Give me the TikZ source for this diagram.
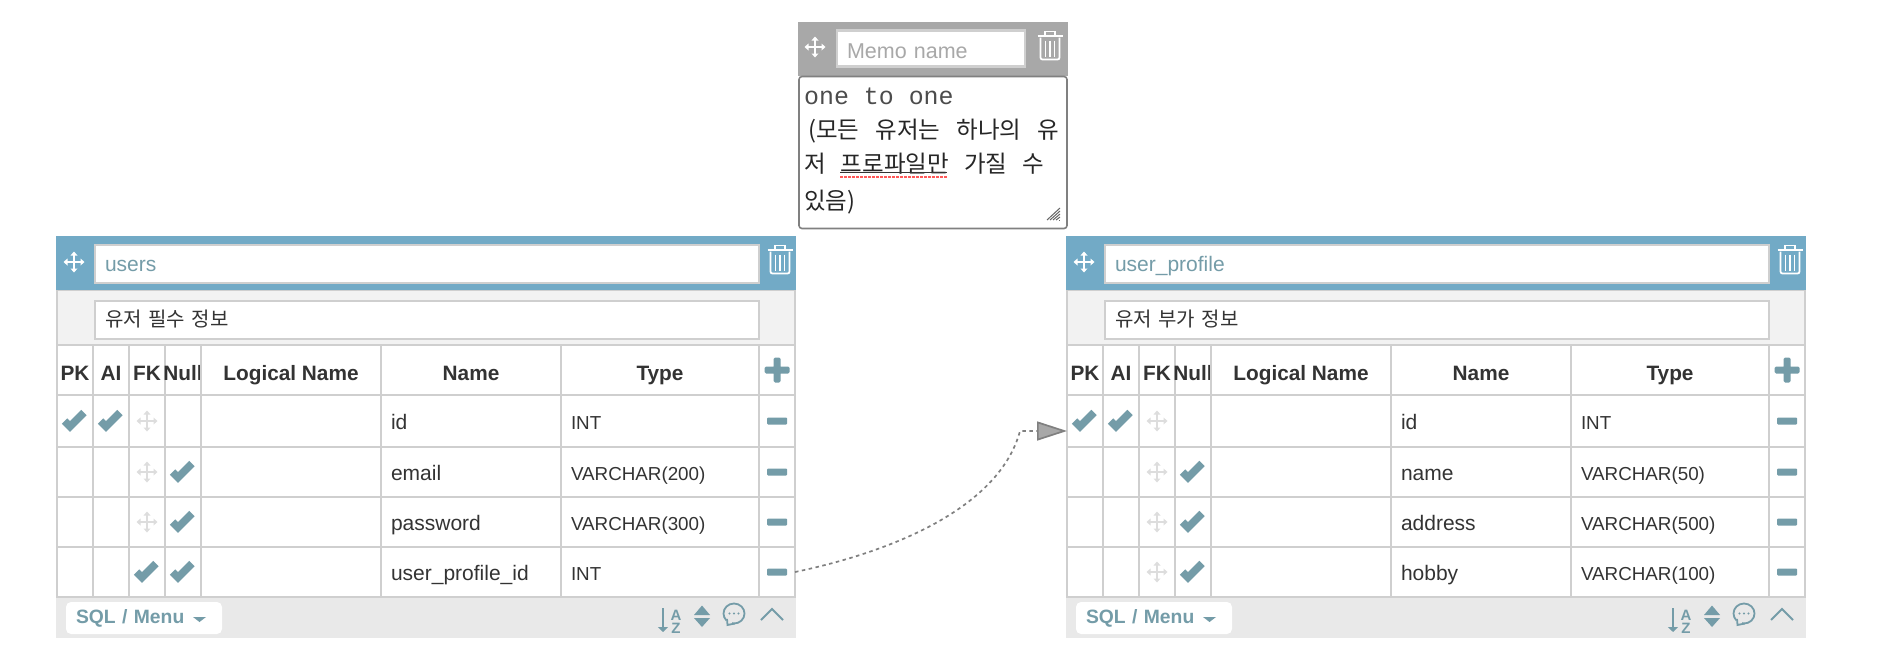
\documentclass[tikz,border=0pt]{standalone}
\usepackage{fontspec}
\setmainfont{Liberation Sans}
\newfontfamily\krfont{Noto Sans CJK KR}
\newfontfamily\memomono{Liberation Mono}
\usetikzlibrary{arrows.meta}

\definecolor{barblue}{HTML}{72AAC6}
\definecolor{icongreen}{HTML}{749CA8}
\definecolor{gridgray}{HTML}{CFCFCF}
\definecolor{bandgray}{HTML}{F2F2F2}
\definecolor{footgray}{HTML}{E9E9E9}
\definecolor{memogray}{HTML}{A8A8A8}
\definecolor{relgray}{HTML}{808080}
\definecolor{inktext}{HTML}{333333}

\tikzset{
  cell/.style={draw=gridgray, line width=1.8pt, outer sep=0pt, inner sep=0pt},
  headcell/.style={cell, text=inktext, text height=20pt, text depth=0pt, font=\bfseries\fontsize{20.8}{24}\selectfont},
  textcell/.style={cell, text=inktext, inner xsep=10pt, align=left, text height=16pt, text depth=0pt},
  inputbox/.style={draw=gridgray, line width=2pt, fill=white, outer sep=0pt, inner ysep=0pt, inner xsep=10pt, minimum height=38pt, text height=16pt, text depth=0pt, align=left},
  relline/.style={draw=relgray, line width=1.7pt, dash pattern=on 3.5pt off 3.5pt},
  pics/checkmark/.style={code={\draw[icongreen, line width=7.5pt] (-10.5,0) -- (-5,5.5) -- (9,-8.5);}},
  pics/minusbar/.style={code={\fill[icongreen, rounded corners=1pt] (-10,-3.5) rectangle (10,3.5);}},
  pics/plusbar/.style={code={\fill[icongreen, rounded corners=1.5pt] (-12.5,-3.5) rectangle (12.5,3.5) (-3.5,-12.5) rectangle (3.5,12.5);}},
  pics/moveicon/.style={code={
    \draw[#1, line width=1.5pt] (-7,0) -- (7,0) (0,-7) -- (0,7);
    \fill[#1] (-10.5,0) -- (-6.5,-3.5) -- (-6.5,3.5) -- cycle
      (10.5,0) -- (6.5,-3.5) -- (6.5,3.5) -- cycle
      (0,-10.5) -- (-3.5,-6.5) -- (3.5,-6.5) -- cycle
      (0,10.5) -- (-3.5,6.5) -- (3.5,6.5) -- cycle;}},
  pics/trashicon/.style={code={
    \draw[white, line width=1.6pt] (-5,-10) -- (-5,-14) -- (5,-14) -- (5,-10);
    \draw[white, line width=2pt] (-12.5,-9.5) -- (12.5,-9.5);
    \draw[white, line width=1.8pt, rounded corners=2pt] (-9.5,-8) -- (-9.5,14) -- (9.5,14) -- (9.5,-8);
    \draw[white, line width=1.6pt] (-4.5,-5) -- (-4.5,11) (0,-5) -- (0,11) (4.5,-5) -- (4.5,11);}},
}

% name, x shift, title, comment, rows
\newcommand{\erdtable}[5]{
\begin{scope}[shift={(#2,0)}]
\node (#1bar) [fill=barblue, minimum width=740pt, minimum height=54pt, outer sep=0pt, inner sep=0pt] at (426,263) {};
\node (#1band) [cell, fill=bandgray, minimum width=738pt, minimum height=55pt] at (426,318) {};
\node (#1foot) [fill=footgray, minimum width=740pt, minimum height=41pt, outer sep=0pt, inner sep=0pt] at (426,617.5) {};
\pic at (74,262) {moveicon=white};
\node (#1title) [inputbox, text width=644pt, text=icongreen, font=\fontsize{21}{25}\selectfont] at (427,263.5) {#3};
\pic at (780,259.5) {trashicon};
\node (#1comment) [inputbox, text width=644pt, text=inktext, text height=14pt, font=\krfont\fontsize{20}{24}\selectfont] at (427,319.5) {#4};
\foreach \k/\cx/\cw/\htext in {pk/75/36/PK, ai/111/36/AI, fk/147/36/FK, nul/183/36/Null, logical/291/180/Logical Name, name/471/180/Name, type/660/198/Type, add/777/36/}
  \node (#1h\k) [headcell, minimum width=\cw pt, minimum height=50pt] at (\cx,370) {\makebox[0pt]{\htext}};
\pic at (#1hadd) {plusbar};
\foreach \rw/\cy/\ch/\colname/\coltype in {#5} {
  \foreach \k/\cx/\cw in {pk/75/36, ai/111/36, fk/147/36, nul/183/36, logical/291/180, del/777/36}
    \node (#1\rw\k) [cell, minimum width=\cw pt, minimum height=\ch pt] at (\cx,\cy) {};
  \node (#1\rw name) [textcell, text width=160pt, minimum height=\ch pt, font=\fontsize{21}{25}\selectfont] at (471,\cy) {\colname};
  \node (#1\rw type) [textcell, text width=178pt, minimum height=\ch pt, font=\fontsize{18.8}{22}\selectfont] at (660,\cy) {\coltype};
  \pic at (#1\rw del) {minusbar};
}
% footer
\node (#1sql) [fill=white, rounded corners=5pt, outer sep=0pt, inner ysep=0pt, inner xsep=10pt, text width=136pt, minimum height=32pt, text height=10pt, text depth=0pt, text=icongreen, font=\bfseries\fontsize{19.3}{23}\selectfont, align=left] at (144,618) {SQL / Menu};
\fill[icongreen] (193,617) -- (206,617) -- (199.5,622) -- cycle;
\draw[icongreen, line width=2.5pt, -{Triangle[length=5pt,width=10pt]}] (663,608) -- (663,632);
\node (#1sorta) [text=icongreen, inner sep=0pt, font=\bfseries\fontsize{15}{15}\selectfont] at (676,615) {A};
\node (#1sortz) [text=icongreen, inner sep=0pt, font=\bfseries\fontsize{15}{15}\selectfont] at (676,628) {Z};
\fill[icongreen] (694,615) -- (710,615) -- (702,605.5) -- cycle (694,618) -- (710,618) -- (702,627) -- cycle;
\draw[icongreen, line width=1.8pt] (734,613.5) ellipse [x radius=10.5, y radius=10];
\fill[footgray] (726,619) rectangle (732,624);
\draw[icongreen, line width=1.8pt] (727,619) -- (727.5,625) -- (735,623.5);
\fill[icongreen] (729.5,613.5) circle (1.2) (734,613.5) circle (1.2) (738.5,613.5) circle (1.2);
\draw[icongreen, line width=2pt] (761,620) -- (772,609) -- (783,620);
\end{scope}
}

\begin{document}
\begin{tikzpicture}[x=1pt,y=-1pt]
\useasboundingbox (0,0) rectangle (1884,662);
\fill[white] (0,0) rectangle (1884,662);

% memo
\node (memobar) [fill=memogray, minimum width=270pt, minimum height=54pt, outer sep=0pt, inner sep=0pt] at (933,49) {};
\pic at (815,47) {moveicon=white};
\node (memoname) [draw=gridgray, line width=2.5pt, fill=white, outer sep=0pt, inner ysep=0pt, inner xsep=10pt, text width=168pt, minimum height=36pt, text height=19pt, text depth=0pt, text=memogray, align=left, font=\fontsize{21.5}{25}\selectfont] at (931,48.5) {Memo name};
\pic at (1050,45.5) {trashicon};
\node (memobox) [draw=relgray, line width=1.6pt, fill=white, rounded corners=3pt, minimum width=268pt, minimum height=152pt, outer sep=0pt, inner sep=0pt] at (933,152.5) {};
\node (memotext) [anchor=north west, inner sep=0pt, align=left, text=black!85, font=\krfont\fontsize{23.5}{34}\selectfont] at (804,88) {%
  {\memomono\color{black!70}\fontsize{24.9}{34}\selectfont one to one}\\
  \makebox[255pt][s]{\hspace*{4pt}(모든 유저는 하나의 유}\\
  \makebox[240pt][s]{저 프로파일만 가질 수}\\[3pt]
  있음)};
\draw[black!80, line width=1pt] (840,172) -- (947,172);
\draw[red!65, line width=2.5pt, dash pattern=on 2.5pt off 1.5pt] (840,177) -- (947,177);
\foreach \gd in {0,3,6,9,12}
  \draw[black!60, line width=1pt] (1047+\gd,220) -- (1060,208+\gd);

\erdtable{users}{0}{users}{유저 필수 정보}{1/421/52/id/INT, 2/472/50/email/VARCHAR(200), 3/522/50/password/VARCHAR(300), 4/572/50/user\_profile\_id/INT}
\erdtable{profile}{1010}{user\_profile}{유저 부가 정보}{1/421/52/id/INT, 2/472/50/name/VARCHAR(50), 3/522/50/address/VARCHAR(500), 4/572/50/hobby/VARCHAR(100)}

\foreach \c in {users1pk, users1ai, users2nul, users3nul, users4fk, users4nul, profile1pk, profile1ai, profile2nul, profile3nul, profile4nul}
  \pic at (\c) {checkmark};
\foreach \c in {users1fk, users2fk, users3fk, profile1fk, profile2fk, profile3fk, profile4fk}
  \pic at (\c) {moveicon=gridgray!70};

% relation
\draw[relline, -{Triangle[length=30pt,width=19pt,fill=memogray]}] (users4del.east) .. controls (900,550) and (1000,505) .. (1020,431) -- ([yshift=-10pt]profile1pk.west);
\end{tikzpicture}
\end{document}
